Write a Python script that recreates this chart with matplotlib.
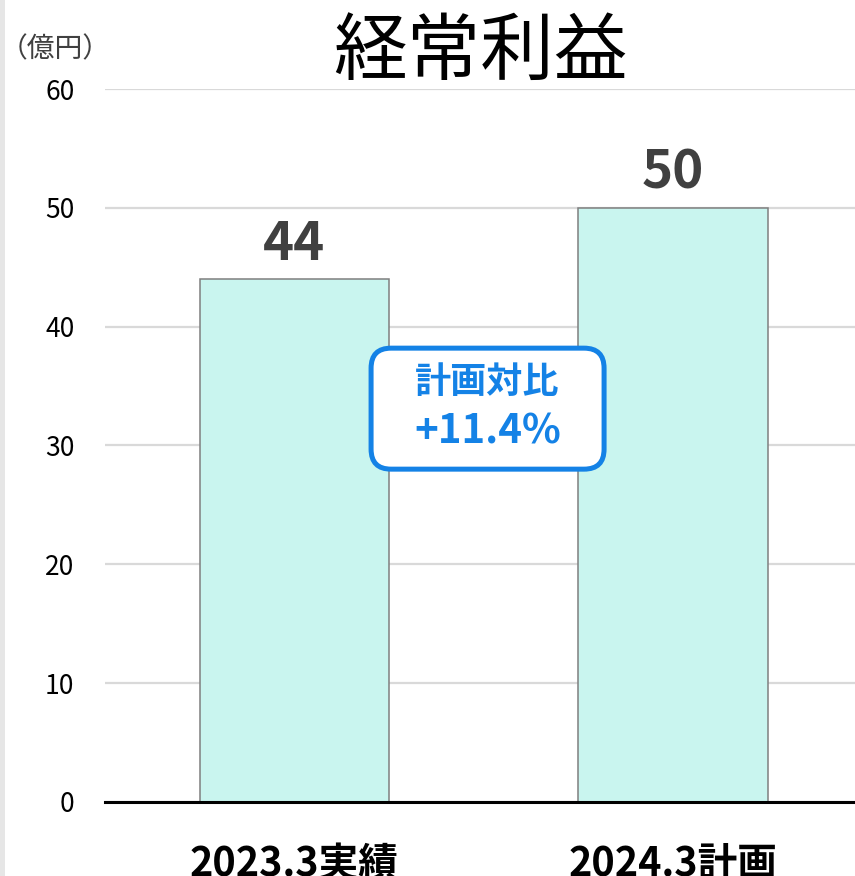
import matplotlib
matplotlib.use("Agg")
import matplotlib.pyplot as plt
from matplotlib.patches import FancyBboxPatch, Rectangle
from matplotlib.transforms import ScaledTranslation

plt.rcParams['font.family'] = ['Noto Sans CJK JP', 'DejaVu Sans']

categories = ["2023.3実績", "2024.3計画"]
values = [44, 50]
y_ticks = [0, 10, 20, 30, 40, 50, 60]
title = "経常利益"
unit = "（億円）"
callout_head = "計画対比"
callout_value = "+11.4%"

BAR_COLOR = "#C9F5EF"
BAR_EDGE = "#7F7F7F"
BLUE = "#1482E6"
LABEL_GRAY = "#404040"

fig = plt.figure(figsize=(8.55, 8.76), dpi=100)
ax = fig.add_axes([0.1228, 0.0845, 0.8772, 0.8139])

x = list(range(len(categories)))
bars = ax.bar(x, values, width=0.5, color=BAR_COLOR, edgecolor=BAR_EDGE,
              linewidth=1.1, zorder=3)

for b, v in zip(bars, values):
    ax.annotate(f"{v}", (b.get_x() + b.get_width() / 2, v),
                xytext=(0, 6), textcoords="offset points",
                ha="center", va="bottom", fontsize=38, fontweight="bold",
                color=LABEL_GRAY)

ax.set_xlim(-0.5, 1.48)
ax.set_ylim(0, 60)
ax.set_yticks(y_ticks)
ax.set_xticks(x)
ax.set_xticklabels(categories, fontsize=28.5, fontweight="bold", color="black")
ax.tick_params(axis="x", length=0, pad=30)
ax.tick_params(axis="y", length=0, pad=22, labelsize=19, labelcolor="black")
ax.grid(axis="y", color="#D9D9D9", linewidth=1.6, zorder=0)
for s in ["left", "right", "top"]:
    ax.spines[s].set_visible(False)
ax.spines["bottom"].set_linewidth(2.2)
ax.spines["bottom"].set_color("black")
ax.spines["bottom"].set_zorder(4)

# title and unit
ax.text(0.5, 1.05, title, transform=ax.transAxes, ha="center", va="center",
        fontsize=53, color="black")
fig.text(0.064, 0.944, unit, ha="center", va="center", fontsize=20,
         color=LABEL_GRAY)

# callout box between the bars
cx, cy = 0.51, 33.1
off = fig.dpi_scale_trans + ScaledTranslation(cx, cy, ax.transData)
box = FancyBboxPatch((-1.165, -0.605), 2.33, 1.21,
                     boxstyle="round,pad=0,rounding_size=0.2",
                     transform=off, facecolor="white", edgecolor=BLUE,
                     linewidth=3.6, zorder=5)
ax.add_patch(box)
ax.text(cx, cy + 2.2, callout_head, ha="center", va="center", fontsize=26,
        fontweight="bold", color=BLUE, zorder=6)
ax.text(cx, cy - 2.0, callout_value, ha="center", va="center", fontsize=29,
        fontweight="bold", color=BLUE, zorder=6)

# faint strip on the left edge
fig.patches.append(Rectangle((0, 0), 0.006, 1, transform=fig.transFigure,
                             facecolor="#E6E6E6", edgecolor="none"))

fig.savefig("out.png", dpi=100)
